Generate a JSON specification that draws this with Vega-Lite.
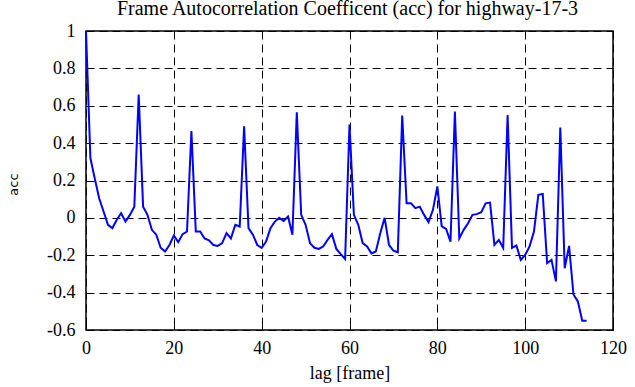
{
  "$schema": "https://vega.github.io/schema/vega-lite/v6.json",
  "width": 527,
  "height": 299,
  "autosize": {"type": "none"},
  "padding": {"left": 86, "top": 31, "right": 22, "bottom": 57},
  "background": "white",
  "config": {
    "view": {"stroke": "black", "strokeWidth": 1.5},
    "axis": {
      "labelFont": "Liberation Serif",
      "labelFontSize": 18,
      "labelColor": "black",
      "titleFont": "Liberation Serif",
      "titleFontWeight": "normal",
      "titleColor": "black",
      "domain": false,
      "tickColor": "black",
      "gridColor": "black",
      "gridOpacity": 1,
      "gridDash": [8, 5],
      "gridWidth": 1
    }
  },
  "data": {
    "values": [
      {"lag": 0, "acc": 1.0}, {"lag": 1, "acc": 0.32}, {"lag": 2, "acc": 0.21}, {"lag": 3, "acc": 0.105},
      {"lag": 4, "acc": 0.034}, {"lag": 5, "acc": -0.037}, {"lag": 6, "acc": -0.055}, {"lag": 7, "acc": -0.01},
      {"lag": 8, "acc": 0.025}, {"lag": 9, "acc": -0.02}, {"lag": 10, "acc": 0.016}, {"lag": 11, "acc": 0.06},
      {"lag": 12, "acc": 0.66}, {"lag": 13, "acc": 0.06}, {"lag": 14, "acc": 0.016}, {"lag": 15, "acc": -0.064},
      {"lag": 16, "acc": -0.09}, {"lag": 17, "acc": -0.16}, {"lag": 18, "acc": -0.18}, {"lag": 19, "acc": -0.145},
      {"lag": 20, "acc": -0.095}, {"lag": 21, "acc": -0.13}, {"lag": 22, "acc": -0.087}, {"lag": 23, "acc": -0.073},
      {"lag": 24, "acc": 0.465}, {"lag": 25, "acc": -0.073}, {"lag": 26, "acc": -0.073}, {"lag": 27, "acc": -0.11},
      {"lag": 28, "acc": -0.12}, {"lag": 29, "acc": -0.145}, {"lag": 30, "acc": -0.15}, {"lag": 31, "acc": -0.135},
      {"lag": 32, "acc": -0.082}, {"lag": 33, "acc": -0.11}, {"lag": 34, "acc": -0.037}, {"lag": 35, "acc": -0.046},
      {"lag": 36, "acc": 0.49}, {"lag": 37, "acc": -0.055}, {"lag": 38, "acc": -0.09}, {"lag": 39, "acc": -0.145},
      {"lag": 40, "acc": -0.16}, {"lag": 41, "acc": -0.127}, {"lag": 42, "acc": -0.055}, {"lag": 43, "acc": -0.02},
      {"lag": 44, "acc": 0.0}, {"lag": 45, "acc": -0.016}, {"lag": 46, "acc": 0.007}, {"lag": 47, "acc": -0.09},
      {"lag": 48, "acc": 0.565}, {"lag": 49, "acc": 0.016}, {"lag": 50, "acc": -0.037}, {"lag": 51, "acc": -0.135},
      {"lag": 52, "acc": -0.16}, {"lag": 53, "acc": -0.166}, {"lag": 54, "acc": -0.153}, {"lag": 55, "acc": -0.118},
      {"lag": 56, "acc": -0.087}, {"lag": 57, "acc": -0.166}, {"lag": 58, "acc": -0.194}, {"lag": 59, "acc": -0.22},
      {"lag": 60, "acc": 0.5}, {"lag": 61, "acc": 0.016}, {"lag": 62, "acc": -0.037}, {"lag": 63, "acc": -0.135},
      {"lag": 64, "acc": -0.153}, {"lag": 65, "acc": -0.19}, {"lag": 66, "acc": -0.18}, {"lag": 67, "acc": -0.082},
      {"lag": 68, "acc": 0.0}, {"lag": 69, "acc": -0.145}, {"lag": 70, "acc": -0.176}, {"lag": 71, "acc": -0.184},
      {"lag": 72, "acc": 0.547}, {"lag": 73, "acc": 0.078}, {"lag": 74, "acc": 0.078}, {"lag": 75, "acc": 0.052},
      {"lag": 76, "acc": 0.06}, {"lag": 77, "acc": 0.016}, {"lag": 78, "acc": -0.023}, {"lag": 79, "acc": 0.043},
      {"lag": 80, "acc": 0.168}, {"lag": 81, "acc": -0.046}, {"lag": 82, "acc": -0.059}, {"lag": 83, "acc": -0.127},
      {"lag": 84, "acc": 0.569}, {"lag": 85, "acc": -0.11}, {"lag": 86, "acc": -0.064}, {"lag": 87, "acc": -0.029},
      {"lag": 88, "acc": 0.016}, {"lag": 89, "acc": 0.02}, {"lag": 90, "acc": 0.03}, {"lag": 91, "acc": 0.078},
      {"lag": 92, "acc": 0.082}, {"lag": 93, "acc": -0.145}, {"lag": 94, "acc": -0.118}, {"lag": 95, "acc": -0.16},
      {"lag": 96, "acc": 0.55}, {"lag": 97, "acc": -0.16}, {"lag": 98, "acc": -0.148}, {"lag": 99, "acc": -0.225},
      {"lag": 100, "acc": -0.198}, {"lag": 101, "acc": -0.153}, {"lag": 102, "acc": -0.073}, {"lag": 103, "acc": 0.123},
      {"lag": 104, "acc": 0.128}, {"lag": 105, "acc": -0.242}, {"lag": 106, "acc": -0.225}, {"lag": 107, "acc": -0.34},
      {"lag": 108, "acc": 0.483}, {"lag": 109, "acc": -0.27}, {"lag": 110, "acc": -0.15}, {"lag": 111, "acc": -0.41},
      {"lag": 112, "acc": -0.447}, {"lag": 113, "acc": -0.55}, {"lag": 114, "acc": -0.55}
    ]
  },
  "layer": [
    {
      "mark": {"type": "line", "strokeOpacity": 0},
      "encoding": {
        "x": {
          "field": "lag", "type": "quantitative",
          "scale": {"domain": [0, 120], "nice": false, "zero": false},
          "axis": {
            "orient": "bottom", "title": "lag [frame]", "values": [0, 20, 40, 60, 80, 100, 120],
            "grid": true, "tickSize": -5, "tickWidth": 1, "labelPadding": 14, "labelFlush": false, "labelOverlap": false,
            "titleFontSize": 18, "titleBaseline": "alphabetic", "titleY": 48
          }
        },
        "y": {
          "field": "acc", "type": "quantitative",
          "scale": {"domain": [-0.6, 1], "nice": false, "zero": false},
          "axis": {
            "orient": "left", "title": "acc", "values": [-0.6, -0.4, -0.2, 0, 0.2, 0.4, 0.6, 0.8, 1],
            "labelExpr": "'' + datum.value",
            "grid": true, "tickSize": -5, "tickWidth": 1, "labelPadding": 16, "labelFlush": false, "labelOverlap": false,
            "titleFont": "DejaVu Sans", "titleFontSize": 13, "titleAngle": -90, "titleBaseline": "middle",
            "titleX": -73, "titleY": 153
          }
        }
      }
    },
    {
      "mark": {"type": "line", "color": "#0000ff", "strokeWidth": 2},
      "encoding": {
        "x": {
          "field": "lag", "type": "quantitative",
          "axis": {
            "orient": "top", "title": "Frame Autocorrelation Coefficent (acc) for highway-17-3",
            "titleFontSize": 20, "titleBaseline": "alphabetic", "titleAlign": "center", "titleAnchor": "middle",
            "titleX": 261, "titleY": -17,
            "labels": false, "grid": false, "tickSize": -5, "tickWidth": 1, "values": [0, 20, 40, 60, 80, 100, 120]
          }
        },
        "y": {
          "field": "acc", "type": "quantitative",
          "axis": {"orient": "right", "title": null, "labels": false, "grid": false, "tickSize": -5, "tickWidth": 1, "values": [-0.6, -0.4, -0.2, 0, 0.2, 0.4, 0.6, 0.8, 1]}
        }
      }
    }
  ],
  "resolve": {"axis": {"x": "independent", "y": "independent"}}
}
